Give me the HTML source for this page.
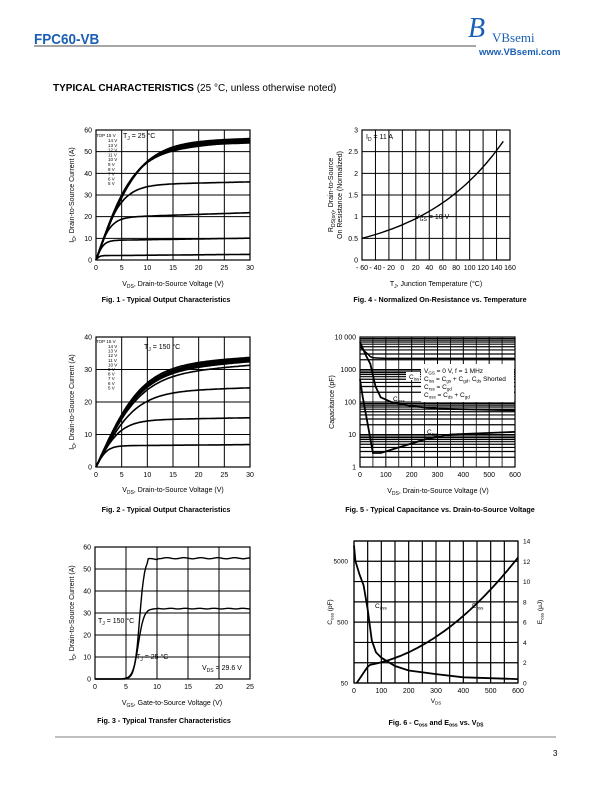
<!DOCTYPE html><html><head><meta charset="utf-8"><style>
body{margin:0;background:#fff}svg{display:block}
text{font-family:"Liberation Sans",sans-serif;fill:#000}
</style></head><body>
<svg id="s" width="612" height="792" xmlns="http://www.w3.org/2000/svg">
<text x="34" y="44" font-size="15" font-weight="bold" style="fill:#1a5fb4" transform="translate(34,44) scale(0.9,1) translate(-34,-44)">FPC60-VB</text>
<line x1="34" y1="46" x2="476" y2="46" stroke="#888" stroke-width="1.5"/>
<text x="468" y="37" font-size="28" style="fill:#1a5fb4;font-family:'Liberation Serif'" font-style="italic">B</text>
<text x="492" y="42" font-size="13" style="fill:#1a5fb4;font-family:'Liberation Serif'">VBsemi</text>
<text x="479" y="55" font-size="9.5" font-weight="bold" style="fill:#1a5fb4">www.VBsemi.com</text>
<text x="53" y="91" font-size="10"><tspan font-weight="bold">TYPICAL CHARACTERISTICS</tspan> (25 °C, unless otherwise noted)</text>
<line x1="55" y1="737" x2="556" y2="737" stroke="#000" stroke-width="0.6"/>
<text x="553" y="756" font-size="8">3</text>
<g id="g"></g>
</svg>
<script>
const g=document.getElementById('g');let h='';
function T(x,y,t,sz,anc,extra){h+=`<text x="${x}" y="${y}" font-size="${sz||7}" text-anchor="${anc||'start'}" ${extra||''}>${t}</text>`}
function L(x1,y1,x2,y2,w){h+=`<line x1="${x1}" y1="${y1}" x2="${x2}" y2="${y2}" stroke="#000" stroke-width="${w||1}"/>`}
function P(pts,w,c){h+=`<polyline fill="none" stroke="${c||'#000'}" stroke-width="${w||1.6}" points="${pts.map(p=>p[0].toFixed(1)+','+p[1].toFixed(1)).join(' ')}"/>`}
function box(x0,y0,x1,y1){h+=`<rect x="${x0}" y="${y0}" width="${x1-x0}" height="${y1-y0}" fill="none" stroke="#000" stroke-width="1.2"/>`}
function lin(x0,y0,x1,y1,xmin,xmax,xs,ymin,ymax,ys){
 for(let v=xmin;v<=xmax+1e-9;v+=xs){let x=x0+(v-xmin)/(xmax-xmin)*(x1-x0);L(x,y0,x,y1,1);T(x,y1+10,v,7,'middle')}
 for(let v=ymin;v<=ymax+1e-9;v+=ys){let y=y1-(v-ymin)/(ymax-ymin)*(y1-y0);L(x0,y,x1,y,1);T(x0-4,y+2.5,v,7,'end')}
 box(x0,y0,x1,y1);
 return [v=>x0+(v-xmin)/(xmax-xmin)*(x1-x0),v=>y1-(v-ymin)/(ymax-ymin)*(y1-y0)];
}
function sat(X,Y,Isat,k,slope,xmax){let p=[];for(let v=0;v<=xmax;v+=0.25){let i=Isat*Math.tanh(v*k/Isat)*(1+slope*v);p.push([X(v),Y(i)])}return p}
let [X,Y]=lin(96,130,250,260,0,30,5,0,60,10);
[[2,3,0.01],[9,6,0.004],[19.5,7,0.004],[34.5,7,0.0015],[49,6.8,0.004],[52.5,6.6,0.001],[53,6.6,0.001],[53.5,6.5,0.001],[54,6.5,0.001],[54.5,6.4,0.001],[55,6.4,0]].forEach(a=>P(sat(X,Y,a[0],a[1],a[2],30)));
T(96,137,'TOP 15 V',4.5);['14 V','13 V','12 V','11 V','10 V','9 V','8 V','7 V','6 V','5 V'].forEach((t,i)=>T(108,142+i*4.8,t,4.5));
T(123,138,'T<tspan font-size="5" dy="2">J</tspan><tspan dy="-2"> = 25 °C</tspan>',7);
T(173,286,'V<tspan font-size="5" dy="2">DS</tspan><tspan dy="-2">, Drain-to-Source Voltage (V)</tspan>',7,'middle');
T(0,0,'I<tspan font-size="5" dy="2">D</tspan><tspan dy="-2">, Drain-to-Source Current (A)</tspan>',7,'middle','transform="translate(74,195) rotate(-90)"');
T(166,302,'Fig. 1 - Typical Output Characteristics',7.2,'middle','font-weight="bold"');
[X,Y]=lin(362,130,510,260,-60,160,20,0,3,0.5);
h=h.replace(/>-60</,'>- 60<').replace(/>-40</,'>- 40<').replace(/>-20</,'>- 20<');
{let p=[];for(let t=-60;t<=150;t+=5){let r=0.5*Math.exp((t+60)*0.0081);p.push([X(t),Y(r)])}P(p,1.4)}
T(366,139,'I<tspan font-size="5" dy="2">D</tspan><tspan dy="-2"> = 11 A</tspan>',7);
T(415,219,'V<tspan font-size="5" dy="2">GS</tspan><tspan dy="-2"> = 10 V</tspan>',7);
T(436,286,'T<tspan font-size="5" dy="2">J</tspan><tspan dy="-2">, Junction Temperature (°C)</tspan>',7,'middle');
T(0,0,'R<tspan font-size="5" dy="2">DS(on)</tspan><tspan dy="-2">, Drain-to-Source</tspan>',7,'middle','transform="translate(333,195) rotate(-90)"');
T(0,0,'On Resistance (Normalized)',7,'middle','transform="translate(342,195) rotate(-90)"');
T(440,302,'Fig. 4 - Normalized On-Resistance vs. Temperature',7.2,'middle','font-weight="bold"');
[X,Y]=lin(96,337,250,467,0,30,5,0,40,10);
[[6.5,3,0.002],[14.3,3,0.002],[23,3,0.002],[28,3.2,0.004],[29,3.3,0.004],[29.5,3.3,0.004],[30,3.4,0.003],[30.5,3.4,0.003],[31,3.5,0.003],[31.5,3.5,0.002]].forEach(a=>P(sat(X,Y,a[0],a[1],a[2],30)));
T(96,343,'TOP 15 V',4.5);['14 V','13 V','12 V','11 V','10 V','9 V','8 V','7 V','6 V','5 V'].forEach((t,i)=>T(108,348+i*4.6,t,4.5));
T(144,349,'T<tspan font-size="5" dy="2">J</tspan><tspan dy="-2"> = 150 °C</tspan>',7);
T(173,492,'V<tspan font-size="5" dy="2">DS</tspan><tspan dy="-2">, Drain-to-Source Voltage (V)</tspan>',7,'middle');
T(0,0,'I<tspan font-size="5" dy="2">D</tspan><tspan dy="-2">, Drain-to-Source Current (A)</tspan>',7,'middle','transform="translate(74,402) rotate(-90)"');
T(166,512,'Fig. 2 - Typical Output Characteristics',7.2,'middle','font-weight="bold"');
{let x0=360,y0=337,x1=515,y1=467;
 for(let v=0;v<=600;v+=50){let x=x0+v/600*(x1-x0);L(x,y0,x,y1,v%100?0.8:1);if(v%100==0)T(x,y1+10,v,7,'middle')}
 const LY=c=>y1-Math.log10(c)/4*(y1-y0);
 for(let d=0;d<4;d++)for(let m=1;m<10;m++){let y=LY(m*Math.pow(10,d));L(x0,y,x1,y,m==1?1:1.2)}
 ['1','10','100','1000','10 000'].forEach((t,i)=>T(x0-4,LY(Math.pow(10,i))+2.5,t,7,'end'));
 box(x0,y0,x1,y1);
 h+=`<rect x="421" y="364" width="93" height="38" fill="#fff"/>`;
 const XV=v=>x0+v/600*(x1-x0);
 P([[0,5000],[20,3500],[30,3000],[40,2500],[50,2300],[100,2200],[600,2200]].map(a=>[XV(a[0]),LY(a[1])]),1.5);
 P([[0,7000],[20,3000],[40,1500],[60,300],[80,140],[120,100],[200,75],[300,62],[600,55]].map(a=>[XV(a[0]),LY(a[1])]),1.8);
 P([[0,500],[10,150],[30,20],[50,2.7],[80,2.7],[150,4],[250,7],[350,10],[600,12]].map(a=>[XV(a[0]),LY(a[1])]),1.8);
 h+=`<rect x="406" y="372" width="14" height="8" fill="#fff"/>`;
 T(409,379,'C<tspan font-size="4.5" dy="1.5">iss</tspan>',6.5);
 T(393,401,'C<tspan font-size="4.5" dy="1.5">oss</tspan>',6.5);
 T(427,434,'C<tspan font-size="4.5" dy="1.5">rss</tspan>',6.5);
 T(424,373,'V<tspan font-size="4.5" dy="1.5">GS</tspan><tspan dy="-1.5"> = 0 V, f = 1 MHz</tspan>',6.5);
 T(424,381,'C<tspan font-size="4.5" dy="1.5">iss</tspan><tspan dy="-1.5"> = C</tspan><tspan font-size="4.5" dy="1.5">gs</tspan><tspan dy="-1.5"> + C</tspan><tspan font-size="4.5" dy="1.5">gd</tspan><tspan dy="-1.5">, C</tspan><tspan font-size="4.5" dy="1.5">ds</tspan><tspan dy="-1.5"> Shorted</tspan>',6.5);
 T(424,389,'C<tspan font-size="4.5" dy="1.5">rss</tspan><tspan dy="-1.5"> = C</tspan><tspan font-size="4.5" dy="1.5">gd</tspan>',6.5);
 T(424,397,'C<tspan font-size="4.5" dy="1.5">oss</tspan><tspan dy="-1.5"> = C</tspan><tspan font-size="4.5" dy="1.5">ds</tspan><tspan dy="-1.5"> + C</tspan><tspan font-size="4.5" dy="1.5">gd</tspan>',6.5);
 T(438,493,'V<tspan font-size="5" dy="2">DS</tspan><tspan dy="-2">, Drain-to-Source Voltage (V)</tspan>',7,'middle');
 T(0,0,'Capacitance (pF)',7,'middle','transform="translate(334,402) rotate(-90)"');
 T(440,512,'Fig. 5 - Typical Capacitance vs. Drain-to-Source Voltage',7.2,'middle','font-weight="bold"');
}
[X,Y]=lin(95,547,250,679,0,25,5,0,60,10);
{let p=[];for(let v=0;v<=25;v+=0.2){let i=v<5?0:(v<8.5?55/(1+Math.exp(-(v-7.2)*2.5)):54.5+0.25*Math.sin(v*2.3)+(v>10?0.4:0));p.push([X(v),Y(i)])}P(p,1.4);
 p=[];for(let v=0;v<=25;v+=0.2){let i=v<4?0:32/(1+Math.exp(-(v-7)*2.2))+(v>10?0.15*Math.sin(v*2.7):0);p.push([X(v),Y(i)])}P(p,1.4);}
T(98,623,'T<tspan font-size="5" dy="2">J</tspan><tspan dy="-2"> = 150 °C</tspan>',7);
T(136,659,'T<tspan font-size="5" dy="2">J</tspan><tspan dy="-2"> = 25 °C</tspan>',7);
T(202,670,'V<tspan font-size="5" dy="2">DS</tspan><tspan dy="-2"> = 29.6 V</tspan>',7);
T(172,705,'V<tspan font-size="5" dy="2">GS</tspan><tspan dy="-2">, Gate-to-Source Voltage (V)</tspan>',7,'middle');
T(0,0,'I<tspan font-size="5" dy="2">D</tspan><tspan dy="-2">, Drain-to-Source Current (A)</tspan>',7,'middle','transform="translate(74,613) rotate(-90)"');
T(164,723,'Fig. 3 - Typical Transfer Characteristics',7.2,'middle','font-weight="bold"');
{let x0=354,y0=541,x1=518,y1=683;
 for(let v=0;v<=600;v+=50){let x=x0+v/600*(x1-x0);L(x,y0,x,y1,1.2);if(v%100==0)T(x,y1+10,v,7,'middle')}
 for(let e=0;e<=14;e+=2){let y=y1-e/14*(y1-y0);L(x0,y,x1,y,1.2);T(x1+5,y+2.5,e,6.5)}
 box(x0,y0,x1,y1);
 const XV=v=>x0+v/600*(x1-x0),LY=c=>y1-Math.log10(c/50)*61,EY=e=>y1-e/14*(y1-y0);
 T(x0-6,LY(5000)+2.5,'5000',6.5,'end');T(x0-6,LY(500)+2.5,'500',6.5,'end');T(x0-6,LY(50)+2.5,'50',6.5,'end');
 P([[0,9000],[5,5000],[20,3000],[35,2000],[50,800],[65,250],[80,160],[100,130],[150,95],[200,80],[300,70],[400,62],[600,58]].map(a=>[XV(a[0]),LY(a[1])]),1.8);
 let p=[];for(let v=10;v<=600;v+=10){let e=v<60?2*(v-10)/50:1.8+0.5*((v-60)/100)+0.0000225*Math.pow(v-60,2)*1.2;p.push([XV(v),EY(e)])}P(p,1.8);
 T(375,608,'C<tspan font-size="4.5" dy="1.5">oss</tspan>',6.5);
 T(472,608,'E<tspan font-size="4.5" dy="1.5">oss</tspan>',6.5);
 T(436,703,'V<tspan font-size="4.5" dy="1.5">DS</tspan>',6.5,'middle');
 T(0,0,'C<tspan font-size="4.5" dy="1.5">oss</tspan><tspan dy="-1.5"> (pF)</tspan>',6.5,'middle','transform="translate(332,612) rotate(-90)"');
 T(0,0,'E<tspan font-size="4.5" dy="1.5">oss</tspan><tspan dy="-1.5"> (μJ)</tspan>',6.5,'middle','transform="translate(542,612) rotate(-90)"');
 T(436,725,'Fig. 6 - C<tspan font-size="5" dy="1.5">oss</tspan><tspan dy="-1.5"> and E</tspan><tspan font-size="5" dy="1.5">oss</tspan><tspan dy="-1.5"> vs. V</tspan><tspan font-size="5" dy="1.5">DS</tspan>',7.2,'middle','font-weight="bold"');
}
g.innerHTML=h;
</script>
</body></html>
